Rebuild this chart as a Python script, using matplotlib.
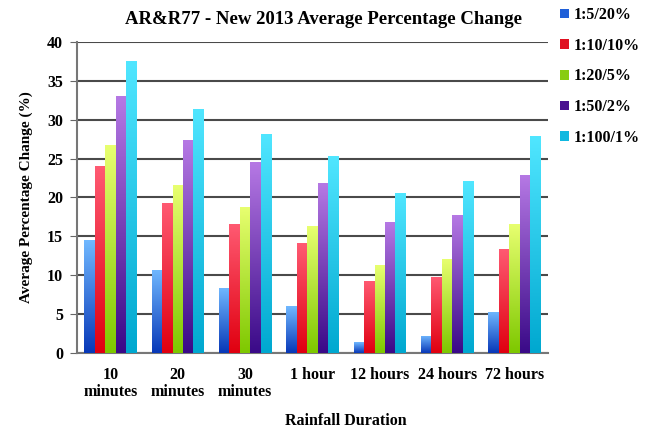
"""Grouped bar chart: AR&R77 vs new 2013 average percentage change by rainfall duration."""

import matplotlib

matplotlib.use("Agg")
import matplotlib.pyplot as plt
from matplotlib.colors import LinearSegmentedColormap
from matplotlib.patches import Patch
import numpy as np

durations = ["10\nminutes", "20\nminutes", "30\nminutes", "1 hour", "12 hours", "24 hours", "72 hours"]
series_names = ["1:5/20%", "1:10/10%", "1:20/5%", "1:50/2%", "1:100/1%"]
aep_5 = [14.5, 10.7, 8.4, 6.0, 1.4, 2.2, 5.3]
aep_10 = [24.0, 19.3, 16.6, 14.1, 9.3, 9.8, 13.4]
aep_20 = [26.7, 21.6, 18.8, 16.3, 11.3, 12.1, 16.6]
aep_50 = [33.0, 27.4, 24.5, 21.8, 16.8, 17.7, 22.9]
aep_100 = [37.5, 31.4, 28.2, 25.3, 20.6, 22.1, 27.9]
series_values = [aep_5, aep_10, aep_20, aep_50, aep_100]

# (top colour, bottom colour) for the gradient fill, and legend swatch colour
bar_colours = [
    ("#70b8ff", "#0838b8"),
    ("#ff5a72", "#e00010"),
    ("#e8ff70", "#7ec800"),
    ("#b578e4", "#3a0a88"),
    ("#50e6ff", "#00a8d0"),
]
legend_colours = ["#1f5fd8", "#e01020", "#88cc10", "#4a1090", "#10b8e0"]
FONT = "Liberation Serif"

fig = plt.figure(figsize=(6.51, 4.33), dpi=100)
ax = fig.add_axes([0.118, 0.185, 0.724, 0.718])

x = np.arange(len(durations))
width = 0.155
offsets = (np.arange(len(series_names)) - 2) * width

ax.set_xlim(-0.5, len(durations) - 0.5)
ax.set_ylim(0, 40)
grad = np.linspace(0, 1, 100).reshape(-1, 1)
for k, (vals, (top, bottom)) in enumerate(zip(series_values, bar_colours)):
    bars = ax.bar(x + offsets[k], vals, width=width, color="none", edgecolor="none", zorder=3)
    cmap = LinearSegmentedColormap.from_list(f"s{k}", [bottom, top])
    for bar in bars:
        bx, bw, bh = bar.get_x(), bar.get_width(), bar.get_height()
        img = ax.imshow(grad, cmap=cmap, origin="lower", aspect="auto",
                        extent=(bx, bx + bw, 0, bh), zorder=3, interpolation="bilinear")
        img.set_clip_path(bar)

ax.set_xlim(-0.5, len(durations) - 0.5)
ax.set_ylim(0, 40)
ax.set_yticks(range(0, 41, 5))
ax.yaxis.grid(True, color="#4a4a4a", linewidth=1.5, zorder=0)
ax.set_axisbelow(True)
ax.set_xticks(x)
ax.set_xticklabels(durations, fontsize=11.5, fontweight="bold", family=FONT, linespacing=1.1)
ax.tick_params(axis="x", length=0, pad=10)
ax.tick_params(axis="y", length=5, color="#666666", labelsize=11.5, pad=5)
for lbl in ax.get_yticklabels():
    lbl.set_fontweight("bold")
    lbl.set_family(FONT)
for side in ("top", "right"):
    ax.spines[side].set_visible(False)
for side in ("left", "bottom"):
    ax.spines[side].set_color("#777777")
    ax.spines[side].set_linewidth(1.5)

ax.set_ylabel("Average Percentage Change (%)", fontsize=11, fontweight="bold", family=FONT, labelpad=10)
fig.text(0.531, 0.028, "Rainfall Duration", ha="center", va="center",
         fontsize=11.5, fontweight="bold", family=FONT)
fig.text(0.497, 0.955, "AR&R77 - New 2013 Average Percentage Change", ha="center", va="center",
         fontsize=13.5, fontweight="bold", family=FONT)

handles = [Patch(facecolor=c, edgecolor="none") for c in legend_colours]
fig.legend(handles, series_names, loc="upper left", bbox_to_anchor=(0.838, 1.017), frameon=False,
           prop={"family": FONT, "weight": "bold", "size": 11.5},
           handlelength=0.55, handleheight=0.55, handletextpad=0.3, labelspacing=0.92)

fig.savefig("out.png", dpi=100)
